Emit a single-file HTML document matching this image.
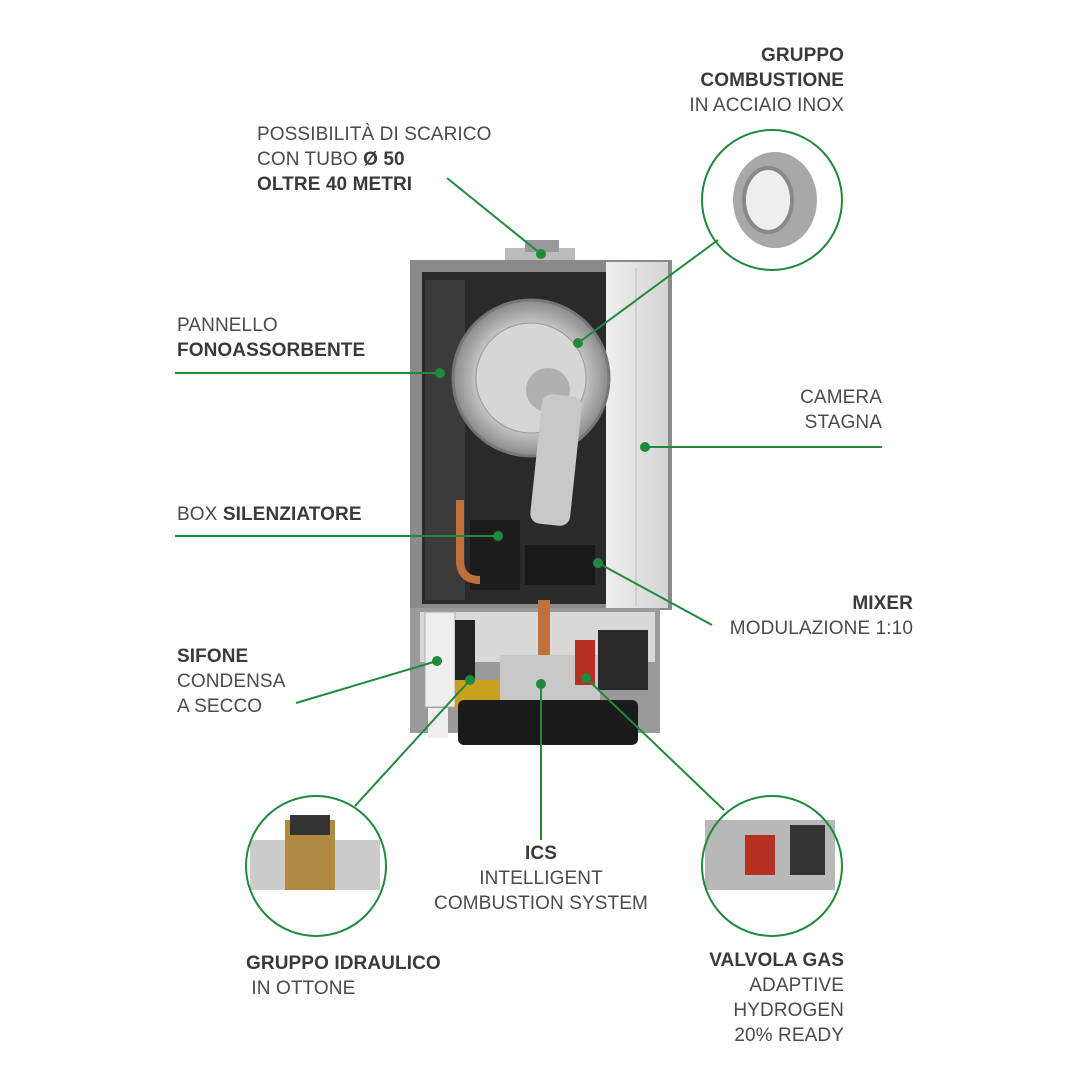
<!DOCTYPE html>
<html><head><meta charset="utf-8"><style>
body{margin:0;width:1080px;height:1080px;background:#fff;position:relative;overflow:hidden;font-family:"Liberation Sans",sans-serif;color:#4a4a4a}
.t{position:absolute;font-size:19px;line-height:25px;letter-spacing:0.1px}
.r{text-align:right}
b{color:#3a3a3a}
svg{position:absolute;left:0;top:0}
</style></head><body>
<svg width="1080" height="1080">
<defs>
<linearGradient id="g1" x1="0" x2="1"><stop offset="0" stop-color="#eeeeee"/><stop offset="1" stop-color="#d4d4d4"/></linearGradient>
<radialGradient id="rg"><stop offset="0" stop-color="#e4e4e4"/><stop offset="0.7" stop-color="#c4c4c4"/><stop offset="1" stop-color="#8a8a8a"/></radialGradient>
</defs>
<rect x="505" y="248" width="70" height="14" fill="#bbb"/>
<rect x="525" y="240" width="34" height="12" fill="#999"/>
<rect x="410" y="260" width="262" height="350" fill="#8a8a8a"/>
<rect x="422" y="272" width="190" height="332" fill="#2a2a2a"/>
<rect x="425" y="280" width="40" height="320" fill="#3b3b3b"/>
<rect x="606" y="262" width="62" height="346" fill="url(#g1)"/>
<line x1="636" y1="268" x2="636" y2="606" stroke="#bbb"/>
<circle cx="531" cy="378" r="78" fill="url(#rg)" stroke="#777" stroke-width="3"/>
<circle cx="531" cy="378" r="55" fill="#d6d6d6" stroke="#999"/>
<circle cx="548" cy="390" r="22" fill="#b0b0b0"/>
<rect x="536" y="395" width="40" height="130" rx="10" fill="#c8c8c8" transform="rotate(6 556 460)"/>
<rect x="470" y="520" width="50" height="70" fill="#1c1c1c"/>
<rect x="525" y="545" width="70" height="40" fill="#1a1a1a"/>
<path d="M460 500 v60 q0 20 20 20" stroke="#c0703a" stroke-width="8" fill="none"/>
<rect x="410" y="608" width="250" height="125" fill="#9a9a9a"/>
<rect x="420" y="612" width="235" height="50" fill="#d8d8d8"/>
<rect x="425" y="612" width="30" height="95" fill="#eee" stroke="#aaa"/>
<rect x="455" y="620" width="20" height="60" fill="#222"/>
<rect x="538" y="600" width="12" height="60" fill="#c0703a"/>
<rect x="455" y="680" width="50" height="30" fill="#c9a020"/>
<rect x="500" y="655" width="100" height="45" fill="#c8c8c8"/>
<rect x="575" y="640" width="20" height="45" fill="#b43020"/>
<rect x="598" y="630" width="50" height="60" fill="#2a2a2a"/>
<rect x="458" y="700" width="180" height="45" rx="6" fill="#1a1a1a"/>
<rect x="428" y="708" width="20" height="30" fill="#eee"/>
<ellipse cx="775" cy="200" rx="42" ry="48" fill="#a8a8a8"/><ellipse cx="768" cy="200" rx="24" ry="32" fill="#eee" stroke="#888" stroke-width="4"/>
<rect x="250" y="840" width="130" height="50" fill="#ccc"/>
<rect x="285" y="820" width="50" height="70" fill="#b08a40"/><rect x="290" y="815" width="40" height="20" fill="#333"/>
<rect x="705" y="820" width="130" height="70" fill="#b8b8b8"/><rect x="745" y="835" width="30" height="40" fill="#b43020"/><rect x="790" y="825" width="35" height="50" fill="#333"/>
<g stroke="#1f8a3b" stroke-width="2" fill="none">
<line x1="447" y1="178" x2="541" y2="254"/>
<line x1="175" y1="373" x2="440" y2="373"/>
<line x1="175" y1="536" x2="498" y2="536"/>
<line x1="645" y1="447" x2="882" y2="447"/>
<line x1="718" y1="240" x2="578" y2="343"/>
<line x1="598" y1="563" x2="712" y2="625"/>
<line x1="296" y1="703" x2="437" y2="661"/>
<line x1="355" y1="806" x2="470" y2="680"/>
<line x1="541" y1="684" x2="541" y2="840"/>
<line x1="586" y1="678" x2="724" y2="810"/>
<circle cx="772" cy="200" r="70"/>
<circle cx="316" cy="866" r="70"/>
<circle cx="772" cy="866" r="70"/>
</g>
<g fill="#1f8a3b">
<circle cx="541" cy="254" r="5"/><circle cx="440" cy="373" r="5"/><circle cx="498" cy="536" r="5"/>
<circle cx="645" cy="447" r="5"/><circle cx="578" cy="343" r="5"/><circle cx="598" cy="563" r="5"/>
<circle cx="437" cy="661" r="5"/><circle cx="470" cy="680" r="5"/><circle cx="541" cy="684" r="5"/><circle cx="586" cy="678" r="5"/>
</g>
</svg>
<div class="t r" style="right:236px;top:43px"><b>GRUPPO<br>COMBUSTIONE</b><br>IN ACCIAIO INOX</div>
<div class="t" style="left:257px;top:122px">POSSIBILITÀ DI SCARICO<br>CON TUBO <b>Ø 50</b><br><b>OLTRE 40 METRI</b></div>
<div class="t" style="left:177px;top:313px">PANNELLO<br><b>FONOASSORBENTE</b></div>
<div class="t r" style="right:198px;top:385px">CAMERA<br>STAGNA</div>
<div class="t" style="left:177px;top:502px">BOX <b>SILENZIATORE</b></div>
<div class="t r" style="right:167px;top:591px"><b>MIXER</b><br>MODULAZIONE 1:10</div>
<div class="t" style="left:177px;top:644px"><b>SIFONE</b><br>CONDENSA<br>A SECCO</div>
<div class="t" style="left:424px;top:841px;width:234px;text-align:center"><b>ICS</b><br>INTELLIGENT<br>COMBUSTION SYSTEM</div>
<div class="t" style="left:246px;top:951px"><b>GRUPPO IDRAULICO</b><br>&nbsp;IN OTTONE</div>
<div class="t r" style="right:236px;top:948px"><b>VALVOLA GAS</b><br>ADAPTIVE<br>HYDROGEN<br>20% READY</div>
</body></html>
